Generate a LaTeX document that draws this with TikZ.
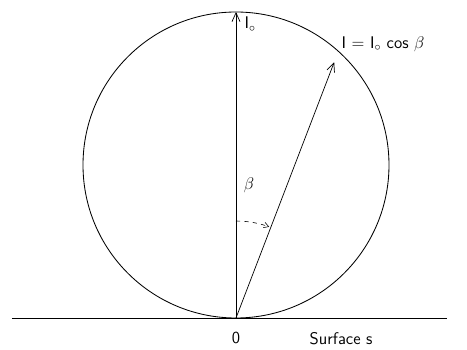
\documentclass[tikz,border=0pt]{standalone}
\usepackage{amsmath,amssymb}
\usepackage{tikz}
\usetikzlibrary{arrows.meta,positioning,calc}

\begin{document}
\begin{tikzpicture}[
  x=0.025cm,y=0.025cm,
  line/.style={line width=0.5pt},
  vec/.style={line width=0.5pt,-{Straight Barb[length=2.2mm,width=2mm]}},
  lbl/.style={font=\sffamily\large,inner sep=1pt}
]
\useasboundingbox (-236,-31) rectangle (231,318);
% points
\coordinate (O) at (0,0);
\coordinate (C) at (0,153);
\coordinate (top) at (0,306);
\coordinate (tip) at (69:274);
% surface line
\coordinate (sl) at (-224,0);
\coordinate (sr) at (211,0);
\draw[line] (sl) -- (sr);
% circle
\draw[line width=0.6pt] (C) circle (153);
% vectors
\draw[vec] (O) -- (top);
\draw[vec] (O) -- (tip);
% angle
\draw[line width=0.4pt,dashed,-{Straight Barb[length=1.2mm,width=1.4mm]}] (90:97) arc (90:70:97);
\node[lbl] (beta) at (13,133) {$\beta$};
% labels
\node[lbl,anchor=west] (I0) at (7,294) {I$_\circ$};
\node[lbl,anchor=west] (I) at (104,274) {I $=$ I$_\circ$ cos $\beta$};
\node[lbl] (zero) at (0,-20) {0};
\node[lbl,anchor=west] (surf) at (72,-21) {Surface s};
\end{tikzpicture}
\end{document}
